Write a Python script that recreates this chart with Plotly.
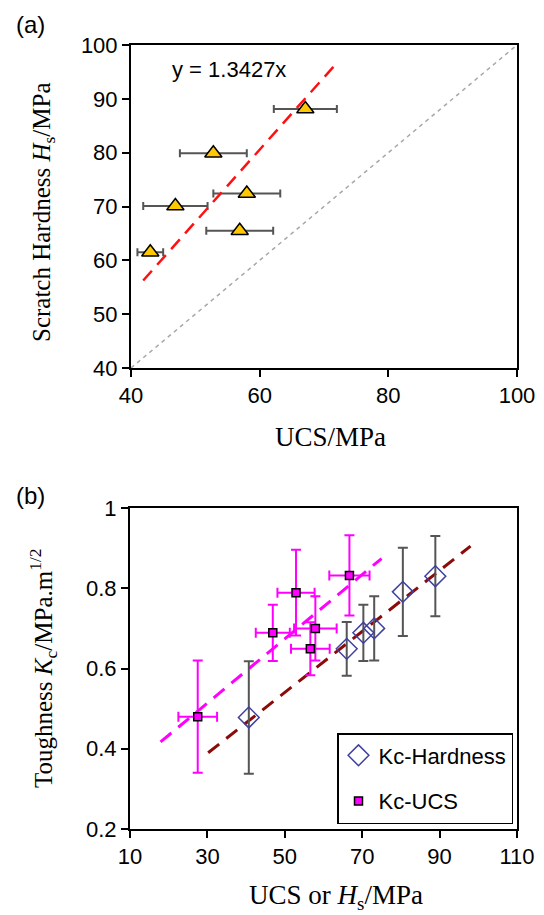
import plotly.graph_objects as go

# ---------- Panel (a) data ----------
ucs_a = [43.0, 46.9, 56.9, 58.0, 52.8, 67.1]
hs_a = [61.5, 70.1, 65.5, 72.4, 79.9, 88.1]
ucs_a_err = [2.0, 5.0, 5.2, 5.2, 5.2, 4.9]
fit_a_slope = 1.3427
fit_a_x = [41.9, 72.1]
diag_x = [40, 100]

# ---------- Panel (b) data ----------
ucs_b = [27.5, 46.9, 52.9, 57.9, 56.6, 66.7]
kc_ucs = [0.48, 0.689, 0.789, 0.70, 0.649, 0.832]
ucs_b_err = [5.0, 4.4, 4.8, 5.5, 5.0, 5.2]
kc_ucs_err = [0.14, 0.07, 0.107, 0.08, 0.066, 0.10]

hs_b = [40.7, 70.3, 80.5, 73.1, 66.0, 88.9]
kc_hs = [0.478, 0.689, 0.791, 0.70, 0.649, 0.830]
kc_hs_err = [0.14, 0.07, 0.11, 0.08, 0.067, 0.10]

fit_ucs_x = [17.9, 75.0]
fit_ucs_y = [0.417, 0.874]
fit_hs_x = [30.2, 98.0]
fit_hs_y = [0.390, 0.905]

# page body has an 8px margin; size the figure to fill the rest of the window
OFF = 8
W, H = 544 - OFF, 915 - OFF
def px(x):
    return (x - OFF) / W
def py(y):
    return 1 - (y - OFF) / H

fig = go.Figure()

# Panel (a)
fig.add_trace(go.Scatter(x=diag_x, y=diag_x, mode="lines",
                         line=dict(color="#a8a8a8", width=1.5, dash="4px,4px"),
                         xaxis="x", yaxis="y", showlegend=False))
fig.add_trace(go.Scatter(x=ucs_a, y=hs_a, mode="markers",
                         marker=dict(symbol="triangle-up", size=15, color="#FFC800",
                                     line=dict(color="black", width=1.5)),
                         error_x=dict(type="data", array=ucs_a_err, color="#555555",
                                      thickness=2, width=4),
                         xaxis="x", yaxis="y", showlegend=False))
fig.add_trace(go.Scatter(x=fit_a_x, y=[fit_a_slope * v for v in fit_a_x], mode="lines",
                         line=dict(color="#FF1010", width=2.5, dash="13px,8px"),
                         xaxis="x", yaxis="y", showlegend=False))

# Panel (b)
fig.add_trace(go.Scatter(x=fit_ucs_x, y=fit_ucs_y, mode="lines",
                         line=dict(color="#FF00FF", width=3, dash="14px,9px"),
                         xaxis="x2", yaxis="y2", showlegend=False))
fig.add_trace(go.Scatter(x=fit_hs_x, y=fit_hs_y, mode="lines",
                         line=dict(color="#8B0A0A", width=3, dash="14px,9px"),
                         xaxis="x2", yaxis="y2", showlegend=False))
fig.add_trace(go.Scatter(x=hs_b, y=kc_hs, mode="markers", name="Kc-Hardness",
                         legendgroup="g1",
                         marker=dict(symbol="diamond-open", size=16, color="#4040A0",
                                     line=dict(color="#4040A0", width=1.5)),
                         error_y=dict(type="data", array=kc_hs_err, color="#555555",
                                      thickness=2, width=5),
                         xaxis="x2", yaxis="y2"))
fig.add_trace(go.Scatter(x=ucs_b, y=kc_ucs, mode="markers", name="Kc-UCS",
                         legendgroup="g2",
                         marker=dict(symbol="square", size=8, color="#FF00FF",
                                     line=dict(color="black", width=1.5)),
                         error_y=dict(type="data", array=kc_ucs_err, color="#FF00FF",
                                      thickness=2, width=5),
                         error_x=dict(type="data", array=ucs_b_err, color="#FF00FF",
                                      thickness=2, width=5),
                         xaxis="x2", yaxis="y2"))

tickfont = dict(family="Liberation Sans, Arial", size=22, color="black")
axis_common = dict(showgrid=False, zeroline=False, showline=True, linecolor="black",
                   linewidth=2, mirror=True, ticks="outside", ticklen=7,
                   tickwidth=2, tickcolor="black", tickfont=tickfont, automargin=False)

fig.update_layout(
    width=W, height=H,
    margin=dict(l=0, r=0, t=0, b=0, autoexpand=False),
    paper_bgcolor="white", plot_bgcolor="white",
    xaxis=dict(domain=[px(131), px(517)], range=[40, 100], tickvals=[40, 60, 80, 100],
               anchor="y", **axis_common),
    yaxis=dict(domain=[py(368), py(45)], range=[40, 100], tickvals=[40, 50, 60, 70, 80, 90, 100],
               anchor="x", **axis_common),
    xaxis2=dict(domain=[px(130), px(517)], range=[10, 110], tickvals=[10, 30, 50, 70, 90, 110],
                anchor="y2", **axis_common),
    yaxis2=dict(domain=[py(829), py(508)], range=[0.2, 1.0], tickvals=[0.2, 0.4, 0.6, 0.8, 1.0],
                ticktext=["0.2", "0.4", "0.6", "0.8", "1"],
                anchor="x2", **axis_common),
    legend=dict(x=px(337), y=py(733), xanchor="left", yanchor="top",
                bgcolor="white", bordercolor="black", borderwidth=1.5,
                font=dict(family="Liberation Sans, Arial", size=22, color="black"),
                itemsizing="trace", itemwidth=30, tracegroupgap=14),
    showlegend=True,
)

serif_y = dict(family="Liberation Serif, Times New Roman", size=25, color="black")
serif_x = dict(family="Liberation Serif, Times New Roman", size=27, color="black")
sans24 = dict(family="Liberation Sans, Arial", size=24, color="black")
annos = [
    dict(text="y = 1.3427x", x=55.3, y=95.4, xref="x", yref="y", showarrow=False,
         xanchor="center", yanchor="middle",
         font=dict(family="Liberation Sans, Arial", size=22, color="black")),
    dict(text="(a)", x=px(14), y=py(25), xref="paper", yref="paper", xanchor="left",
         yanchor="middle", showarrow=False, font=sans24),
    dict(text="(b)", x=px(14), y=py(495), xref="paper", yref="paper", xanchor="left",
         yanchor="middle", showarrow=False, font=sans24),
    dict(text="UCS/MPa", x=px(330), y=py(437), xref="paper", yref="paper",
         xanchor="center", yanchor="middle", showarrow=False, font=serif_x),
    dict(text="UCS or <i>H</i><sub>s</sub>/MPa", x=px(336), y=py(897), xref="paper", yref="paper",
         xanchor="center", yanchor="middle", showarrow=False, font=serif_x),
    dict(text="Scratch Hardness <i>H</i><sub>s</sub>/MPa", x=px(43), y=py(212), xref="paper",
         yref="paper", xanchor="center", yanchor="middle", textangle=-90, showarrow=False,
         font=serif_y),
    dict(text="Toughness <i>K</i><sub>c</sub>/MPa.m<sup>1/2</sup>", x=px(43), y=py(668),
         xref="paper", yref="paper", xanchor="center", yanchor="middle", textangle=-90,
         showarrow=False, font=serif_y),
]
fig.update_layout(annotations=annos)

fig.write_html("out.html")
